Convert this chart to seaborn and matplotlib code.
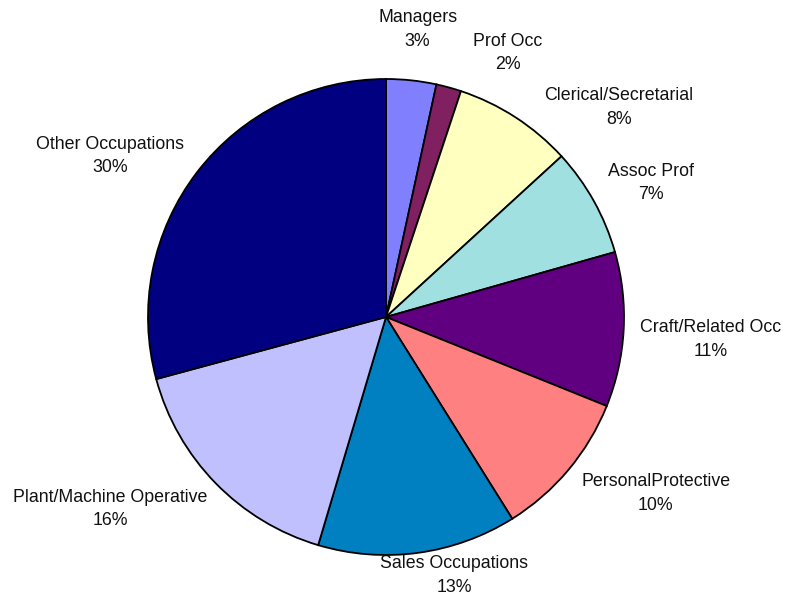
import numpy as np
import matplotlib
matplotlib.use("Agg")
import matplotlib.pyplot as plt
import seaborn as sns

categories = ["Managers", "Prof Occ", "Clerical/Secretarial", "Assoc Prof",
              "Craft/Related Occ", "PersonalProtective", "Sales Occupations",
              "Plant/Machine Operative", "Other Occupations"]
values = [3.4, 1.7, 8.1, 7.4, 10.5, 10.0, 13.5, 16.2, 29.2]
pct_labels = [3, 2, 8, 7, 11, 10, 13, 16, 30]
colors = ["#8080FF", "#802060", "#FFFFC0", "#A0E0E0", "#600080",
          "#FF8080", "#0080C0", "#C0C0FF", "#000080"]

sns.set_theme(style="white")
plt.rcParams["font.family"] = ["Liberation Sans", "DejaVu Sans"]

W, H = 785, 596
fig = plt.figure(figsize=(W / 100, H / 100), dpi=100)
cx, cy, R = 386, 317, 238
ax = fig.add_axes([(cx - R) / W, (H - cy - R) / H, 2 * R / W, 2 * R / H])

wedges, _ = ax.pie(values, colors=colors, startangle=90, counterclock=False,
                   radius=1.0,
                   wedgeprops=dict(edgecolor="black", linewidth=1.3))
ax.set_xlim(-1, 1)
ax.set_ylim(-1, 1)
ax.set_aspect("equal")
ax.axis("off")

# small nudges (pixels, y up) to mimic the reference's label placement
nudges = [(-4, 14), (36, -1), (20, -21), (0, 0), (0, -8), (0, 0), (14, 14), (4, 0), (0, -6)]

renderer = fig.canvas.get_renderer()
r1 = 1.07
for w, cat, pct, (nx, ny) in zip(wedges, categories, pct_labels, nudges):
    ang = np.deg2rad((w.theta1 + w.theta2) / 2)
    c, s = np.cos(ang), np.sin(ang)
    t = ax.annotate(f"{cat}\n{pct}%", xy=(r1 * c, r1 * s), xytext=(0, 0),
                    textcoords="offset pixels", ha="center", va="center",
                    fontsize=12.8, color="#111111", linespacing=1.5,
                    annotation_clip=False)
    bb = t.get_window_extent(renderer)
    tw, th = bb.width, bb.height
    t.xyann = (tw / 2 * np.clip(2 * c, -1, 1) + nx, th / 2 * s + ny)

fig.savefig("out.png", dpi=100)
